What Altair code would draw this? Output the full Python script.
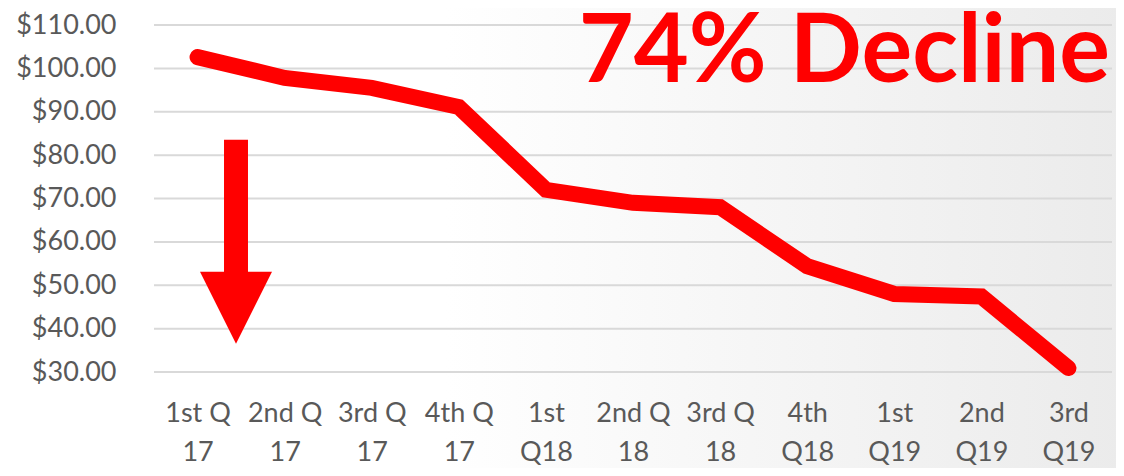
import altair as alt
import pandas as pd

quarters = ["1st Q 17", "2nd Q 17", "3rd Q 17", "4th Q 17", "1st Q18", "2nd Q 18",
            "3rd Q 18", "4th Q18", "1st Q19", "2nd Q19", "3rd Q19"]
prices = [102.6, 97.8, 95.5, 91.1, 72.0, 69.0, 68.0, 54.4, 48.0, 47.4, 30.9]
y_ticks = [30, 40, 50, 60, 70, 80, 90, 100, 110]
headline = "74% Decline"

W, H = 958, 347
FONT = "Lato"
GREY = "#595959"
RED = "#ff0000"

df = pd.DataFrame({"quarter": quarters, "price": prices})
grid_df = pd.DataFrame({"tick": y_ticks})

yscale = alt.Scale(domain=[30, 110], nice=False, zero=False)
yaxis = alt.Axis(values=y_ticks, format="$.2f", title=None, domain=False, ticks=False,
                 grid=False, labelFont=FONT, labelFontSize=27, labelColor=GREY,
                 labelPadding=38, zindex=1)

bg = alt.Chart(pd.DataFrame({"a": [0]})).mark_rect(
    color=alt.Gradient(
        gradient="linear", x1=0, y1=0, x2=1, y2=0,
        stops=[alt.GradientStop(offset=0, color="#ffffff"),
               alt.GradientStop(offset=0.4, color="#ffffff"),
               alt.GradientStop(offset=1, color="#ebebeb")]
    )
).encode(x=alt.value(-160), x2=alt.value(W + 12), y=alt.value(-30), y2=alt.value(H + 120))

grid = alt.Chart(grid_df).mark_rule(color="#d9d9d9", strokeWidth=2).encode(
    y=alt.Y("tick:Q", scale=yscale, axis=yaxis),
    x=alt.value(0), x2=alt.value(W),
)

line = alt.Chart(df).mark_line(
    color=RED, strokeWidth=16, strokeCap="round", strokeJoin="miter"
).encode(
    x=alt.X("quarter:N", sort=quarters, scale=alt.Scale(paddingOuter=0.5, paddingInner=0),
            axis=alt.Axis(
                title=None, labelAngle=0, domain=False, ticks=False, grid=False,
                labelFont=FONT, labelFontSize=27, labelColor=GREY, labelPadding=28,
                labelLineHeight=39, labelBaseline="top", zindex=1,
                labelExpr="[slice(datum.label, 0, lastindexof(datum.label, ' ')), slice(datum.label, lastindexof(datum.label, ' ') + 1)]",
            )),
    y=alt.Y("price:Q", scale=yscale, axis=yaxis),
)

arrow_path = "M -0.333 -3.667 L 0.333 -3.667 L 0.333 0 L 1 0 L 0 2 L -1 0 L -0.333 0 Z"
arrow = alt.Chart(pd.DataFrame({"a": [0]})).mark_point(
    shape=arrow_path, filled=True, color=RED, opacity=1, size=5184, strokeWidth=0
).encode(x=alt.value(82), y=alt.datum(53.1, scale=yscale))

title = alt.Chart(pd.DataFrame({"t": [headline]})).mark_text(
    font=FONT, fontSize=95, fontWeight="bold", color=RED, align="right", baseline="alphabetic"
).encode(text="t:N", x=alt.value(956), y=alt.value(57))

chart = alt.layer(bg, grid, line, arrow, title).properties(
    width=W, height=H,
    padding={"left": 146, "top": 17, "right": 4, "bottom": 96},
    autosize=alt.AutoSizeParams(type="none"),
).configure_view(stroke=None)

chart.save("out.html", embed_options={"renderer": "svg", "actions": False})
